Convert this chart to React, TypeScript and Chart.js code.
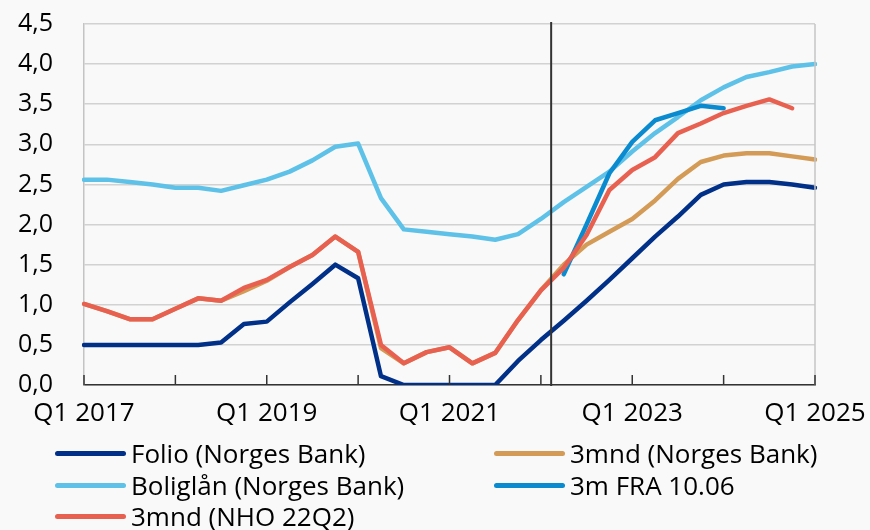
import React, { useEffect, useRef } from "react";
import { Chart, registerables } from "chart.js";

Chart.register(...registerables);

const quarters = [
  "Q1 2017", "Q2 2017", "Q3 2017", "Q4 2017",
  "Q1 2018", "Q2 2018", "Q3 2018", "Q4 2018",
  "Q1 2019", "Q2 2019", "Q3 2019", "Q4 2019",
  "Q1 2020", "Q2 2020", "Q3 2020", "Q4 2020",
  "Q1 2021", "Q2 2021", "Q3 2021", "Q4 2021",
  "Q1 2022", "Q2 2022", "Q3 2022", "Q4 2022",
  "Q1 2023", "Q2 2023", "Q3 2023", "Q4 2023",
  "Q1 2024", "Q2 2024", "Q3 2024", "Q4 2024",
  "Q1 2025",
];

const folio = [
  0.5, 0.5, 0.5, 0.5, 0.5, 0.5, 0.53, 0.76, 0.79, 1.03, 1.26, 1.5, 1.33, 0.11, 0.0, 0.0,
  0.0, 0.0, 0.0, 0.3, 0.56, 0.8, 1.05, 1.31, 1.58, 1.85, 2.1, 2.37, 2.5, 2.53, 2.53, 2.5, 2.46,
];

const nb3mnd = [
  1.01, 0.92, 0.82, 0.82, 0.95, 1.08, 1.05, 1.17, 1.3, 1.47, 1.62, 1.85, 1.66, 0.46, 0.27, 0.41,
  0.47, 0.27, 0.4, 0.81, 1.18, 1.5, 1.75, 1.91, 2.07, 2.3, 2.57, 2.78, 2.86, 2.89, 2.89, 2.85, 2.81,
];

const boliglan = [
  2.56, 2.56, 2.53, 2.5, 2.46, 2.46, 2.42, 2.49, 2.56, 2.66, 2.8, 2.97, 3.01, 2.33, 1.94, 1.91,
  1.88, 1.85, 1.81, 1.88, 2.07, 2.28, 2.47, 2.66, 2.91, 3.14, 3.34, 3.55, 3.71, 3.84, 3.9, 3.97, 4.0,
];

const fra = [
  null, null, null, null, null, null, null, null, null, null, null, null, null, null, null, null,
  null, null, null, null, null, 1.38, 2.0, 2.64, 3.03, 3.3, 3.39, 3.48, 3.45, null, null, null, null,
];

const nho = [
  1.01, 0.92, 0.82, 0.82, 0.95, 1.08, 1.05, 1.21, 1.31, 1.47, 1.62, 1.85, 1.66, 0.5, 0.27, 0.41,
  0.47, 0.27, 0.4, 0.81, 1.18, 1.46, 1.87, 2.43, 2.68, 2.84, 3.14, 3.26, 3.39, 3.48, 3.56, 3.45, null,
];

const yTickValues = [0, 0.5, 1, 1.5, 2, 2.5, 3, 3.5, 4, 4.5];
const dividerIndex = 20.45;

const FONT = "'Open Sans', 'Noto Sans', sans-serif";

const series = [
  { label: "Folio (Norges Bank)", data: folio, color: "#003087", order: 4 },
  { label: "3mnd (Norges Bank)", data: nb3mnd, color: "#D39B56", order: 2 },
  { label: "Boliglån (Norges Bank)", data: boliglan, color: "#5DC1E8", order: 3 },
  { label: "3m FRA 10.06", data: fra, color: "#0A8BCF", order: 1 },
  { label: "3mnd (NHO 22Q2)", data: nho, color: "#E8604F", order: 0 },
];

const framePlugin = {
  id: "frame",
  afterDatasetsDraw(chart: any) {
    const { ctx, chartArea, scales } = chart;
    const x = scales.x;
    ctx.save();
    ctx.strokeStyle = "#c4c4c4";
    ctx.lineWidth = 1.5;
    ctx.beginPath();
    ctx.moveTo(chartArea.right, chartArea.top);
    ctx.lineTo(chartArea.right, chartArea.bottom);
    ctx.stroke();
    ctx.strokeStyle = "#333333";
    ctx.lineWidth = 1.5;
    for (let i = 0; i < quarters.length; i += 4) {
      const px = x.getPixelForValue(i);
      ctx.beginPath();
      ctx.moveTo(px, chartArea.bottom);
      ctx.lineTo(px, chartArea.bottom - 10);
      ctx.stroke();
    }
    const dx = x.getPixelForValue(dividerIndex);
    ctx.strokeStyle = "#333333";
    ctx.lineWidth = 2;
    ctx.beginPath();
    ctx.moveTo(dx, chartArea.top - 2);
    ctx.lineTo(dx, chartArea.bottom + 1);
    ctx.stroke();
    ctx.restore();
  },
};

export default function App() {
  const canvasRef = useRef<HTMLCanvasElement | null>(null);

  useEffect(() => {
    if (!canvasRef.current) return;
    const chart = new Chart(canvasRef.current, {
      type: "line",
      data: {
        labels: quarters,
        datasets: series.map((s) => ({
          label: s.label,
          data: s.data,
          borderColor: s.color,
          backgroundColor: s.color,
          borderWidth: 4.5,
          pointRadius: 0,
          tension: 0,
          fill: false,
          spanGaps: false,
          order: s.order,
          borderCapStyle: "round" as const,
          borderJoinStyle: "round" as const,
        })),
      },
      options: {
        responsive: false,
        animation: false,
        devicePixelRatio: 1,
        layout: { padding: { top: 24, right: 55, left: 0, bottom: 0 } },
        plugins: {
          legend: { display: false },
          tooltip: { enabled: false },
        },
        scales: {
          x: {
            type: "category",
            offset: false,
            grid: { display: false, drawTicks: false },
            border: { display: true, color: "#333333", width: 1.5 },
            ticks: {
              autoSkip: false,
              maxRotation: 0,
              padding: 13,
              color: "#000000",
              font: { family: FONT, size: 26 },
              callback: (_v: any, i: number) => (i % 8 === 0 ? quarters[i] : ""),
            },
            afterFit: (s: any) => {
              s.height = 55;
              s.paddingLeft = 0;
              s.paddingRight = 0;
              s.paddingTop = 0;
              s.paddingBottom = 0;
            },
          },
          y: {
            min: 0,
            max: 4.5,
            afterBuildTicks: (s: any) => {
              s.ticks = yTickValues.map((v) => ({ value: v }));
            },
            grid: { color: "#d2d2d2", lineWidth: 1.5, drawTicks: false },
            border: { display: true, color: "#c4c4c4", width: 1.5 },
            ticks: {
              padding: 31,
              color: "#000000",
              font: { family: FONT, size: 25 },
              callback: (v: any) => Number(v).toFixed(1).replace(".", ","),
            },
            afterFit: (s: any) => {
              s.width = 84;
              s.paddingLeft = 0;
              s.paddingRight = 0;
              s.paddingTop = 0;
              s.paddingBottom = 0;
            },
          },
        },
      },
      plugins: [framePlugin],
    });
    return () => chart.destroy();
  }, []);

  const legendOrder = [0, 1, 2, 3, 4];

  return (
    <div
      style={{
        position: "absolute",
        left: 0,
        top: 0,
        width: 870,
        height: 530,
        background: "#f9f9f9",
        overflow: "hidden",
      }}
    >
      <canvas ref={canvasRef} width={870} height={440} style={{ position: "absolute", left: 0, top: 0 }} />
      <div
        style={{
          position: "absolute",
          left: 55,
          top: 438,
          display: "grid",
          gridTemplateColumns: "439px auto",
          gridAutoRows: "31.5px",
          fontFamily: FONT,
          fontSize: 26,
          color: "#000",
        }}
      >
        {legendOrder.map((i) => (
          <div key={series[i].label} style={{ display: "flex", alignItems: "center", height: 31.5 }}>
            <div style={{ width: 71, height: 5, borderRadius: 3, background: series[i].color, marginRight: 5 }} />
            <span style={{ lineHeight: "31.5px", whiteSpace: "nowrap" }}>{series[i].label}</span>
          </div>
        ))}
      </div>
    </div>
  );
}
